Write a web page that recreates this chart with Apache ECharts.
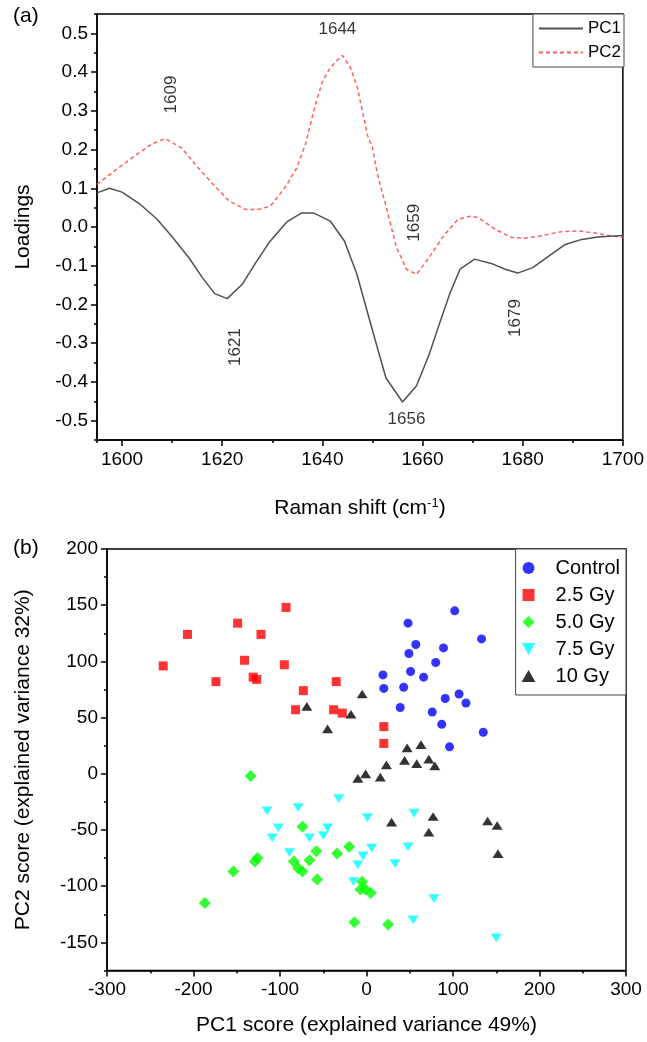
<!DOCTYPE html>
<html>
<head>
<meta charset="utf-8">
<script src="https://cdn.jsdelivr.net/npm/echarts@6/dist/echarts.min.js"></script>
<style>
html,body{margin:0;padding:0;background:#fff;}
#chart{width:647px;height:1042px;}
</style>
</head>
<body>
<div id="chart"></div>
<script>
// ---------- Panel (a): PCA loadings ----------
const pc1Shift = [1595, 1597.5, 1600, 1603.5, 1607, 1610, 1613.5, 1616, 1618.5, 1621, 1624, 1626.7, 1629.6, 1632.9, 1635.8, 1638.3, 1641.6, 1644.4, 1646.9, 1649, 1650.5, 1652.7, 1656, 1658.8, 1661.3, 1663.5, 1665.5, 1667.5, 1670.4, 1673.7, 1676.5, 1679, 1682, 1685.2, 1688.5, 1691.8, 1695, 1700];
const pc1Load = [0.088, 0.100, 0.090, 0.060, 0.020, -0.025, -0.082, -0.130, -0.172, -0.185, -0.148, -0.092, -0.036, 0.013, 0.036, 0.036, 0.015, -0.036, -0.122, -0.220, -0.290, -0.390, -0.452, -0.410, -0.330, -0.245, -0.170, -0.109, -0.083, -0.094, -0.109, -0.119, -0.105, -0.075, -0.045, -0.032, -0.026, -0.022];
const pc2Shift = [1595, 1598.8, 1602.9, 1606, 1608.6, 1611.9, 1615.2, 1618.5, 1621.4, 1624.7, 1627.2, 1629.6, 1632.5, 1634.9, 1636.6, 1638.5, 1640, 1641.5, 1642.5, 1644, 1645.5, 1647, 1649, 1650, 1651, 1652.7, 1654.8, 1656.8, 1658.8, 1661.3, 1664.2, 1667.1, 1669.5, 1671.2, 1674.5, 1677.8, 1680.2, 1683.5, 1687.7, 1691, 1694.2, 1697.6, 1700];
const pc2Load = [0.110, 0.148, 0.187, 0.215, 0.228, 0.204, 0.153, 0.106, 0.067, 0.045, 0.045, 0.054, 0.101, 0.153, 0.213, 0.310, 0.375, 0.410, 0.425, 0.443, 0.415, 0.360, 0.237, 0.205, 0.136, 0.054, -0.053, -0.109, -0.122, -0.079, -0.023, 0.020, 0.028, 0.024, -0.006, -0.027, -0.029, -0.023, -0.012, -0.010, -0.015, -0.023, -0.027];
// peak annotations: [shift, loading, text, rotation]
const peakLabels = [
  [1643, 0.51, '1644', 0],
  [1609.9, 0.342, '1609', 90],
  [1658.4, 0.011, '1659', 90],
  [1622.6, -0.31, '1621', 90],
  [1678.6, -0.235, '1679', 90],
  [1656.8, -0.497, '1656', 0]
];

// ---------- Panel (b): PCA scores [PC1, PC2] ----------
const control = [[102,145],[48,134],[133,120],[57,115],[49,107],[89,112],[80,99],[51,91],[66,86],[19,88],[20,76],[43,77],[91,67],[107,71],[115,63],[39,59],[76,55],[87,44],[135,37],[96,24]];
const gy25 = [[-93,148],[-149,134],[-207,124],[-122,124],[-235,96],[-141,101],[-95,97],[-174,82],[-131,86],[-127,84],[-35,82],[-73,74],[-82,57],[-38,57],[-28,54],[20,42],[20,27]];
const gy50 = [[-134,-2],[-74,-47],[-58,-69],[-66,-77],[-34,-71],[-20,-65],[-126,-75],[-129,-78],[-154,-87],[-187,-115],[-84,-78],[-79,-84],[-74,-87],[-57,-94],[-5,-96],[-7,-103],[-1,-103],[5,-106],[-14,-132],[25,-134]];
const gy75 = [[-115,-33],[-79,-30],[-32,-22],[-102,-48],[-109,-57],[-66,-57],[-45,-48],[-50,-55],[-89,-70],[1,-39],[6,-66],[-4,-73],[-10,-81],[-15,-96],[55,-35],[48,-65],[33,-80],[78,-111],[54,-130],[150,-146]];
const gy10 = [[-69,60],[-45,40],[-18,53],[-5,71],[-10,-4],[-1,0],[16,-3],[23,8],[47,23],[63,26],[44,12],[58,9],[72,13],[79,7],[29,-43],[77,-38],[72,-52],[140,-42],[151,-46],[152,-71]];

const FONT = '"Liberation Sans", Arial, sans-serif';
const blackLine = {color:'#000', width:1.5};
const SQUARE = 'path://M0,0 L10,0 L10,10 L0,10 Z';
const DIAMOND = 'path://M5,0 L10,5 L5,10 L0,5 Z';
const TRI_UP = 'path://M5,0 L10,8.7 L0,8.7 Z';
const TRI_DOWN = 'path://M0,0 L10,0 L5,8.7 Z';

function majorAxis(extra){
  return Object.assign({
    type:'value',
    axisLine:{show:true, onZero:false, lineStyle:blackLine},
    axisTick:{show:true, inside:false, length:6, lineStyle:blackLine},
    splitLine:{show:false},
    nameTextStyle:{color:'#000', fontSize:21, fontFamily:FONT},
    nameLocation:'middle'
  }, extra);
}
function minorAxis(extra){
  return Object.assign({
    type:'value',
    axisLine:{show:false, onZero:false},
    axisTick:{show:true, inside:false, length:3, lineStyle:blackLine},
    axisLabel:{show:false},
    splitLine:{show:false}
  }, extra);
}

const chart = echarts.init(document.getElementById('chart'), null, {renderer:'canvas'});
const option = {
  animation:false,
  backgroundColor:'#fff',
  textStyle:{fontFamily:FONT},
  grid:[
    {left:97, right:23, top:14, height:426, show:true, borderColor:'#000', borderWidth:1.5},
    {left:107, right:21, top:549, height:421.5, show:true, borderColor:'#000', borderWidth:1.5}
  ],
  xAxis:[
    majorAxis({gridIndex:0, position:'bottom', min:1595, max:1700, minInterval:20, maxInterval:20,
      axisLabel:{color:'#000', fontSize:19, fontFamily:FONT, showMinLabel:false, showMaxLabel:true, margin:10, formatter:v=>String(v)},
      name:'Raman shift (cm{sup|-1})', nameGap:57,
      nameTextStyle:{color:'#000', fontSize:21, fontFamily:FONT, rich:{sup:{fontSize:13, verticalAlign:'top', padding:[0,0,10,0], color:'#000', fontFamily:FONT}}}}),
    minorAxis({gridIndex:0, position:'bottom', min:1595, max:1700, minInterval:10, maxInterval:10}),
    majorAxis({gridIndex:1, position:'bottom', min:-300, max:300, interval:100,
      axisLabel:{color:'#000', fontSize:19, fontFamily:FONT, margin:10, formatter:v=>String(v)},
      minorTick:{show:true, splitNumber:2, length:3, lineStyle:blackLine},
      name:'PC1 score (explained variance 49%)', nameGap:44})
  ],
  yAxis:[
    majorAxis({gridIndex:0, position:'left', min:-0.55, max:0.55, minInterval:0.1, maxInterval:0.1,
      axisLabel:{color:'#000', fontSize:19, fontFamily:FONT, showMinLabel:false, showMaxLabel:false, margin:9, formatter:v=>v.toFixed(1)},
      name:'Loadings', nameGap:63}),
    minorAxis({gridIndex:0, position:'left', min:-0.55, max:0.55, minInterval:0.05, maxInterval:0.05}),
    majorAxis({gridIndex:1, position:'left', min:-175, max:200, minInterval:50, maxInterval:50,
      axisLabel:{color:'#000', fontSize:19, fontFamily:FONT, showMinLabel:false, showMaxLabel:true, margin:9, formatter:v=>String(v)},
      name:'PC2 score (explained variance 32%)', nameGap:73}),
    minorAxis({gridIndex:1, position:'left', min:-175, max:200, interval:25})
  ],
  legend:[
    {data:['PC1','PC2'], orient:'vertical', right:23, top:14, itemWidth:44, itemHeight:10, itemGap:7,
     padding:[6,3,6,5], borderColor:'#444', borderWidth:1, backgroundColor:'#fff',
     itemStyle:{opacity:0},
     textStyle:{color:'#000', fontSize:17, fontFamily:FONT}},
    {data:['Control','2.5 Gy','5.0 Gy','7.5 Gy','10 Gy'], orient:'vertical', right:21, top:549,
     itemWidth:44, itemHeight:12, itemGap:7, padding:[9,6,9,6], borderColor:'#444', borderWidth:1, backgroundColor:'#fff',
     symbolKeepAspect:true,
     textStyle:{color:'#000', fontSize:20, fontFamily:FONT}}
  ],
  graphic:[
    {type:'text', left:13, top:6, style:{text:'(a)', fontSize:21, fontFamily:FONT, fill:'#000'}},
    {type:'text', left:13, top:538, style:{text:'(b)', fontSize:21, fontFamily:FONT, fill:'#000'}}
  ],
  series:[
    {name:'PC1', type:'line', xAxisIndex:0, yAxisIndex:0, symbol:'none', z:3,
     data:pc1Shift.map((x,i)=>[x,pc1Load[i]]),
     lineStyle:{color:'#505050', width:1.5}, itemStyle:{color:'#505050'}},
    {name:'PC2', type:'line', xAxisIndex:0, yAxisIndex:0, symbol:'none', z:2,
     data:pc2Shift.map((x,i)=>[x,pc2Load[i]]),
     lineStyle:{color:'#ff5f5f', width:1.5, type:[4,3]}, itemStyle:{color:'#ff5f5f'}},
    {name:'peaks', type:'scatter', xAxisIndex:0, yAxisIndex:0, symbolSize:0, silent:true,
     data:peakLabels.map(p=>({name:p[2], value:[p[0],p[1]], label:{rotate:p[3]}})),
     label:{show:true, position:'inside', formatter:p=>p.name, color:'#000', fontSize:17, fontFamily:FONT}},
    {name:'Control', type:'scatter', xAxisIndex:2, yAxisIndex:2, symbol:'circle', symbolSize:9, data:control, itemStyle:{color:'#0000ff'}},
    {name:'2.5 Gy', type:'scatter', xAxisIndex:2, yAxisIndex:2, symbol:SQUARE, symbolSize:9, symbolKeepAspect:true, data:gy25, itemStyle:{color:'#ff0000'}},
    {name:'5.0 Gy', type:'scatter', xAxisIndex:2, yAxisIndex:2, symbol:DIAMOND, symbolSize:12, symbolKeepAspect:true, data:gy50, itemStyle:{color:'#00ff00'}},
    {name:'7.5 Gy', type:'scatter', xAxisIndex:2, yAxisIndex:2, symbol:TRI_DOWN, symbolSize:[11,10], symbolKeepAspect:true, data:gy75, itemStyle:{color:'#00ffff'}},
    {name:'10 Gy', type:'scatter', xAxisIndex:2, yAxisIndex:2, symbol:TRI_UP, symbolSize:[11,10], symbolKeepAspect:true, data:gy10, itemStyle:{color:'#000000'}}
  ]
};
chart.setOption(option);
</script>
</body>
</html>
